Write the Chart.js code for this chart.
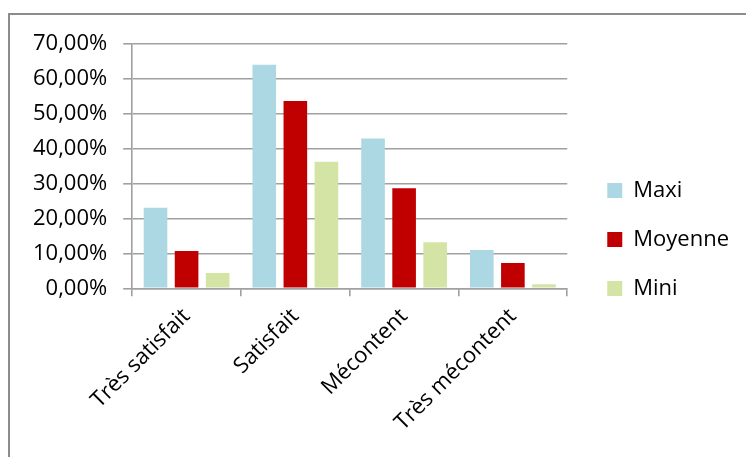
<!DOCTYPE html>
<html>
<head>
<meta charset="utf-8">
<script src="https://cdn.jsdelivr.net/npm/chart.js@4"></script>
<style>
  html, body { margin: 0; padding: 0; background: #fff; }
  body { width: 746px; height: 457px; position: relative; overflow: hidden; }
  #frame {
    position: absolute; left: 8px; top: 13px; width: 736px; height: 442px;
    border-top: 2px solid #8c8c8c; border-left: 2px solid #8c8c8c;
  }
</style>
</head>
<body>
<div id="frame"><canvas id="satisfactionChart"></canvas></div>
<script>
// Categories and series (percentages)
const categories = ['Très satisfait', 'Satisfait', 'Mécontent', 'Très mécontent'];
const maxiValues = [23.1, 64.1, 43.0, 11.0];
const moyenneValues = [10.7, 53.7, 28.7, 7.3];
const miniValues = [4.4, 36.3, 13.2, 1.2];
const seriesLabels = ['Maxi', 'Moyenne', 'Mini'];
const seriesColors = ['#abd8e3', '#c00000', '#d3e4a5'];

const fontFamily = '"Open Sans", Lato, sans-serif';
const fontSize = 22;
const gridColor = '#a0a0a0';

const formatPercent = (v) => v.toFixed(2).replace('.', ',') + '%';

const ctx = document.getElementById('satisfactionChart').getContext('2d');

const satisfactionChart = new Chart(ctx, {
    type: 'bar',
    data: {
        labels: categories,
        datasets: [maxiValues, moyenneValues, miniValues].map((values, i) => ({
            label: seriesLabels[i],
            data: values,
            backgroundColor: seriesColors[i],
            borderWidth: 0,
            categoryPercentage: 0.857,
            barPercentage: 0.76
        }))
    },
    options: {
        responsive: true,
        maintainAspectRatio: false,
        animation: false,
        layout: {
            padding: { left: 7, top: 21, right: 7, bottom: 14 }
        },
        plugins: {
            legend: {
                position: 'right',
                align: 'center',
                maxWidth: 220,
                labels: {
                    boxWidth: 15,
                    boxHeight: 15,
                    padding: 27,
                    color: '#000',
                    font: { family: fontFamily, size: fontSize }
                }
            },
            tooltip: { enabled: false }
        },
        scales: {
            y: {
                min: 0,
                max: 70,
                ticks: {
                    stepSize: 10,
                    padding: 16,
                    color: '#000',
                    font: { family: fontFamily, size: fontSize },
                    callback: (value) => formatPercent(value)
                },
                grid: {
                    color: gridColor,
                    lineWidth: 1.6,
                    tickLength: 9
                },
                border: { color: gridColor, width: 1.6 }
            },
            // empty axis, only keeps a gap between the plot and the legend
            spacer: {
                type: 'linear',
                position: 'right',
                ticks: { display: false },
                grid: { display: false },
                border: { display: false },
                afterFit: (scale) => { scale.width = 13; }
            },
            x: {
                ticks: {
                    minRotation: 45,
                    maxRotation: 45,
                    padding: 7,
                    color: '#000',
                    font: { family: fontFamily, size: fontSize }
                },
                grid: {
                    drawOnChartArea: false,
                    color: gridColor,
                    lineWidth: 1.6,
                    tickLength: 8
                },
                border: { color: gridColor, width: 1.6 }
            }
        }
    }
});
</script>
</body>
</html>
